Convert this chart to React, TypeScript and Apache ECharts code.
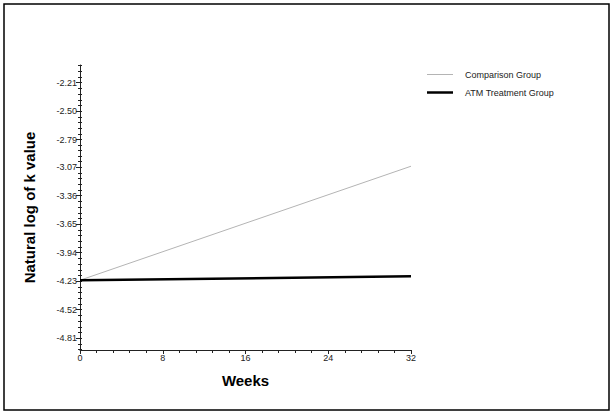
import React, { useEffect, useRef } from "react";
import * as echarts from "echarts";

const weeks = [0, 32];
const comparisonGroup = [-4.22, -3.06];
const atmTreatmentGroup = [-4.22, -4.18];
const yTickLabels = ["-2.21", "-2.50", "-2.79", "-3.07", "-3.36", "-3.65", "-3.94", "-4.23", "-4.52", "-4.81"];
const xTicks = [0, 8, 16, 24, 32];
const Y_MIN = -4.93;
const Y_MAX = -2.03;

export default function App() {
  const ref = useRef<HTMLDivElement>(null);
  useEffect(() => {
    if (!ref.current) return;
    document.body.style.margin = "0";
    const chart = echarts.init(ref.current, null, { renderer: "svg" });
    const majors = yTickLabels.map((s) => parseFloat(s));
    const minors: number[] = [];
    const sorted = [...majors].sort((a, b) => a - b);
    const avgStep = (sorted[sorted.length - 1] - sorted[0]) / (sorted.length - 1) / 5;
    for (let i = 0; i < sorted.length - 1; i++) {
      const st = (sorted[i + 1] - sorted[i]) / 5;
      for (let k = 1; k < 5; k++) minors.push(sorted[i] + st * k);
    }
    for (let v = sorted[0] - avgStep; v > Y_MIN; v -= avgStep) minors.push(v);
    for (let v = sorted[sorted.length - 1] + avgStep; v < Y_MAX; v += avgStep) minors.push(v);
    const allTicks = [...majors, ...minors];
    const font = "Liberation Sans, Arial, sans-serif";
    const baseY = {
      type: "value",
      min: Y_MIN,
      max: Y_MAX,
      position: "left",
      splitLine: { show: false },
      axisLine: { show: false, onZero: false },
      axisLabel: { show: false },
    };
    const legendBase = {
      orient: "vertical",
      left: 422,
      itemWidth: 26,
      icon: "rect",
      textStyle: { fontFamily: font, fontSize: 9, color: "#222", padding: [0, 0, 0, 7] },
    };
    chart.setOption({
      animation: false,
      backgroundColor: "#fff",
      grid: { left: 80, right: 204, top: 65, bottom: 65, containLabel: false },
      legend: [
        { ...legendBase, top: 65, itemHeight: 1, data: ["Comparison Group"] },
        { ...legendBase, top: 83, itemHeight: 2.5, data: ["ATM Treatment Group"] },
      ],
      xAxis: {
        type: "value",
        min: 0,
        max: 32,
        interval: 8,
        name: "Weeks",
        nameLocation: "middle",
        nameGap: 23,
        nameTextStyle: { fontFamily: font, fontSize: 15, fontWeight: "bold", color: "#000" },
        axisLine: { show: true, onZero: false, lineStyle: { color: "#222", width: 1 } },
        axisTick: { show: true, length: 4, lineStyle: { color: "#222" } },
        minorTick: { show: true, splitNumber: 5, length: 3, lineStyle: { color: "#222" } },
        axisLabel: {
          fontFamily: font,
          fontSize: 9,
          color: "#222",
          margin: 3,
          customValues: xTicks,
        },
        splitLine: { show: false },
      },
      yAxis: [
        {
          ...baseY,
          name: "Natural log of k value",
          nameLocation: "middle",
          nameGap: 43,
          nameTextStyle: { fontFamily: font, fontSize: 15, fontWeight: "bold", color: "#000" },
          axisLine: { show: true, onZero: false, lineStyle: { color: "#222", width: 1 } },
          axisTick: { show: true, length: 4, customValues: majors, lineStyle: { color: "#222" } },
          axisLabel: {
            show: true,
            fontFamily: font,
            fontSize: 9,
            color: "#222",
            margin: 3,
            customValues: majors,
            formatter: (v: number) => v.toFixed(2),
          },
        },
        {
          ...baseY,
          axisTick: { show: true, length: 2, customValues: minors, lineStyle: { color: "#222" } },
        },
        {
          ...baseY,
          axisTick: { show: true, inside: true, length: 2, customValues: allTicks, lineStyle: { color: "#222" } },
        },
      ],
      series: [
        {
          name: "Comparison Group",
          type: "line",
          yAxisIndex: 0,
          symbol: "none",
          data: weeks.map((w, i) => [w, comparisonGroup[i]]),
          lineStyle: { color: "#b4b4b4", width: 1 },
          itemStyle: { color: "#b4b4b4" },
        },
        {
          name: "ATM Treatment Group",
          type: "line",
          yAxisIndex: 0,
          symbol: "none",
          data: weeks.map((w, i) => [w, atmTreatmentGroup[i]]),
          lineStyle: { color: "#000", width: 2.5 },
          itemStyle: { color: "#000" },
        },
      ],
      graphic: [
        {
          type: "rect",
          shape: { x: 4, y: 4, width: 605, height: 406 },
          style: { fill: "none", stroke: "#000", lineWidth: 1.5 },
          silent: true,
        },
      ],
    });
    return () => chart.dispose();
  }, []);
  return (
    <div
      ref={ref}
      style={{ position: "absolute", left: 0, top: 0, width: 615, height: 415 }}
    />
  );
}
